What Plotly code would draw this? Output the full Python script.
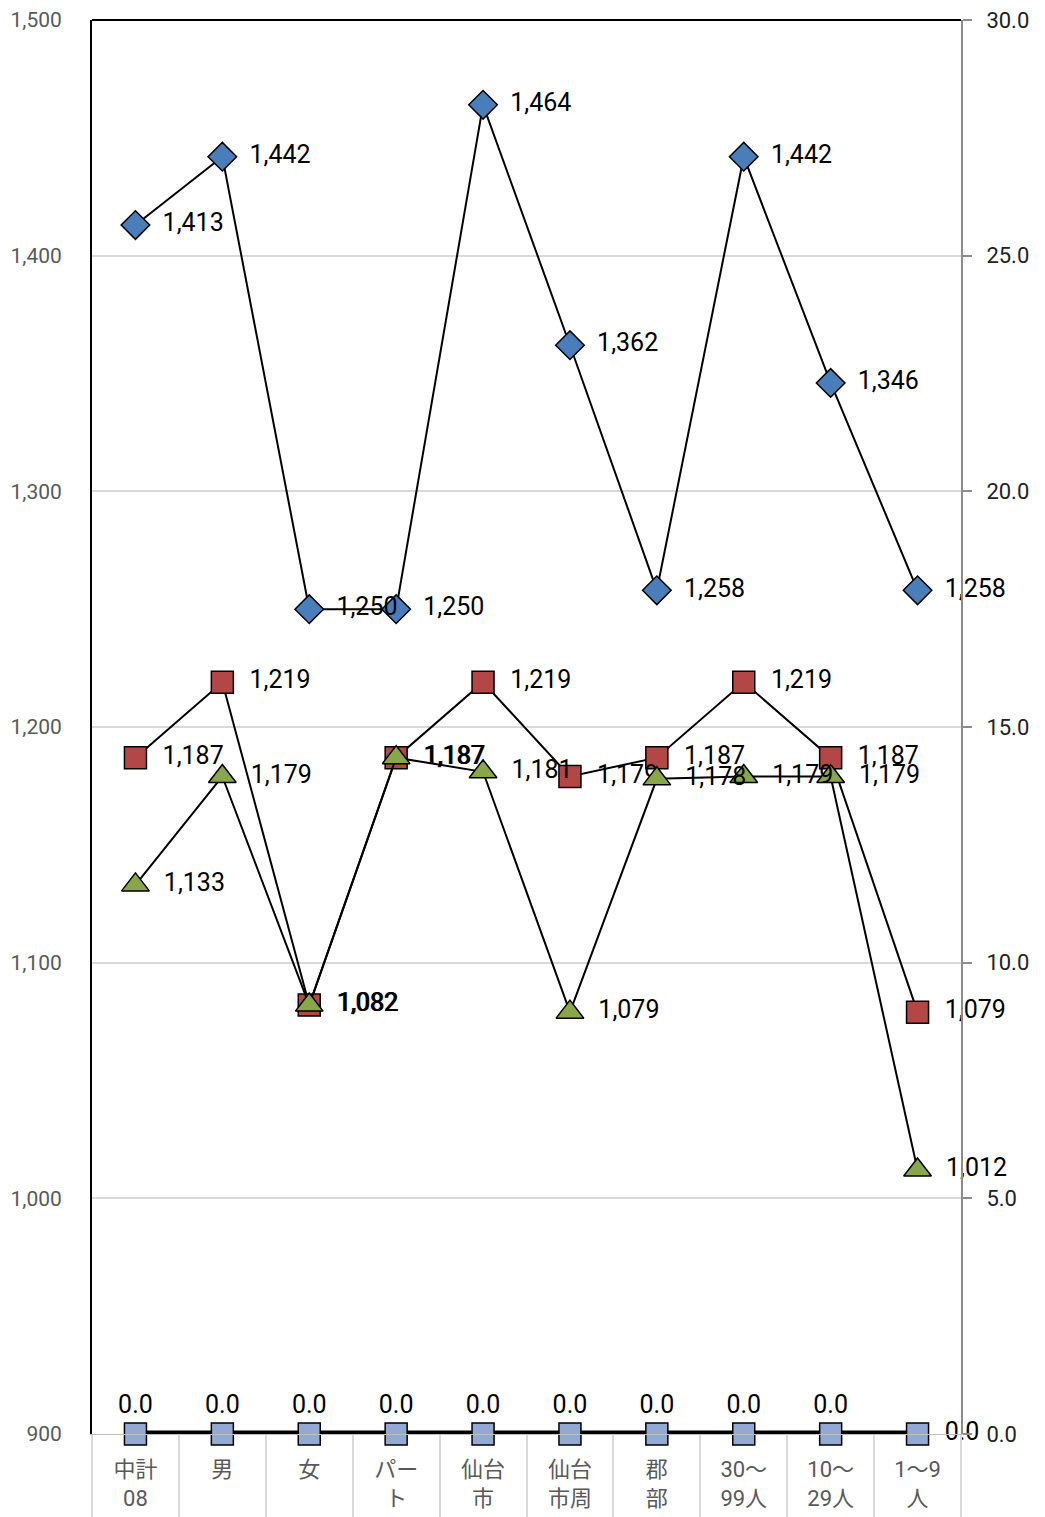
import plotly.graph_objects as go

# カテゴリ（軸ラベル）
categories = ["中計<br>08", "男", "女", "パー<br>ト", "仙台<br>市",
              "仙台<br>市周<br>辺", "郡<br>部", "30～<br>99人", "10～<br>29人", "1～9<br>人"]

# 系列データ（左軸）
series_blue = [1413, 1442, 1250, 1250, 1464, 1362, 1258, 1442, 1346, 1258]
series_red = [1187, 1219, 1082, 1187, 1219, 1179, 1187, 1219, 1187, 1079]
series_green = [1133, 1179, 1082, 1187, 1181, 1079, 1178, 1179, 1179, 1012]
# 右軸の系列
series_zero = [0.0, 0.0, 0.0, 0.0, 0.0, 0.0, 0.0, 0.0, 0.0, 0.0]

left_ticks = [900, 1000, 1100, 1200, 1300, 1400, 1500]
right_ticks = [0, 5, 10, 15, 20, 25, 30]

FONT = "Roboto, Noto Sans CJK JP, sans-serif"
label_font = dict(family=FONT, size=25, color="#000000")

fig = go.Figure()


def add_series(vals, symbol, color, size):
    fig.add_trace(go.Scatter(
        x=categories, y=vals, mode="lines+markers+text",
        line=dict(color="black", width=2),
        marker=dict(symbol=symbol, size=size, color=color,
                    line=dict(color="black", width=1.5)),
        text=[f"  {v:,}" for v in vals], textposition="middle right",
        textfont=label_font, cliponaxis=False, showlegend=False))


add_series(series_blue, "diamond", "#4A7EBB", 22)
add_series(series_red, "square", "#B34745", 22)
add_series(series_green, "triangle-up", "#8AA64B", 24)

# 最後の点だけラベルを右側に置く
zero_pos = ["top center"] * (len(series_zero) - 1) + ["middle right"]
zero_text = [f"{v:.1f}" for v in series_zero]
zero_text[-1] = "  " + zero_text[-1]
fig.add_trace(go.Scatter(
    x=categories, y=series_zero, yaxis="y2", mode="lines+markers+text",
    line=dict(color="black", width=7),
    marker=dict(symbol="square", size=22, color="#93A9D3",
                line=dict(color="black", width=1.5)),
    text=zero_text, textposition=zero_pos,
    textfont=label_font, cliponaxis=False, showlegend=False))

fig.update_layout(
    width=1045, height=1517,
    margin=dict(l=84, r=92, t=12, b=91),
    plot_bgcolor="white", paper_bgcolor="white",
    font=dict(family=FONT),
    xaxis=dict(type="category", range=[-0.5, len(categories) - 0.5],
               showgrid=False, showline=True,
               linecolor="#BFBFBF", linewidth=1, automargin=False,
               ticks="outside", tickson="boundaries", ticklen=90,
               tickcolor="#D9D9D9", tickwidth=2,
               ticklabelstandoff=16,
               tickfont=dict(family=FONT, size=22, color="#595959")),
    yaxis=dict(range=[900, 1500], tickvals=left_ticks, tickformat=",",
               showgrid=True, gridcolor="#D9D9D9", gridwidth=2,
               showline=True, linecolor="black", linewidth=2,
               ticks="", zeroline=False, automargin=False,
               ticklabeloverflow="allow",
               tickfont=dict(family=FONT, size=21, color="#595959"),
               ticklabelstandoff=24),
    yaxis2=dict(range=[0, 30], tickvals=right_ticks, tickformat=".1f",
                overlaying="y", side="right", showgrid=False,
                showline=True, linecolor="#8C8C8C", linewidth=2,
                ticks="outside", ticklen=9, tickcolor="#8C8C8C",
                tickwidth=2, zeroline=False, automargin=False,
                ticklabeloverflow="allow", ticklabelstandoff=10,
                tickfont=dict(family=FONT, size=22, color="#222222")),
    shapes=[dict(type="line", xref="paper", yref="paper", x0=0, x1=1,
                 y0=1, y1=1, line=dict(color="black", width=2))],
)

fig.write_html("out.html")
